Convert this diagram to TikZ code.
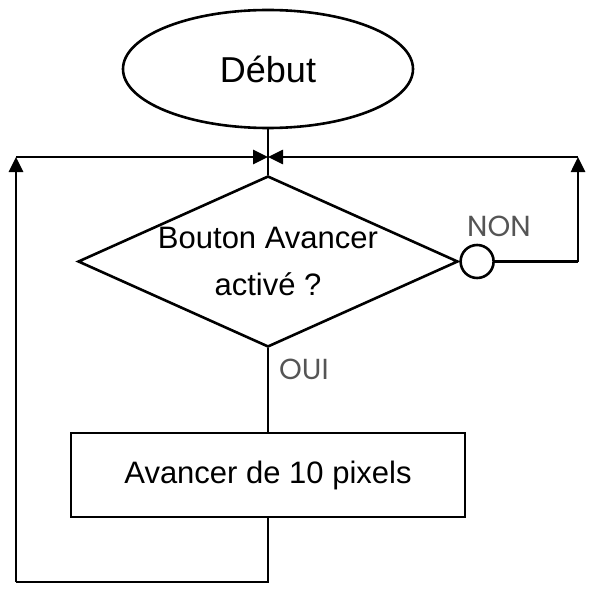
\documentclass[tikz,border=0pt]{standalone}
\usepackage{fontspec}
\setmainfont{Liberation Sans}
\newfontfamily\labelfont{Poppins}
\usetikzlibrary{shapes.geometric,arrows.meta}
\definecolor{labelgray}{HTML}{555555}
\tikzset{
  flow/.style={line width=2.6pt},
  arr/.style={flow,-{Triangle[length=15pt,width=14pt]}},
  startbox/.style={ellipse,draw,flow,inner sep=0,minimum width=290,minimum height=118,font=\fontsize{36}{43}\selectfont},
  testbox/.style={diamond,draw,flow,aspect=2.22,inner xsep=0,inner ysep=-20pt,minimum width=380,minimum height=171,align=center,font=\fontsize{31}{47}\selectfont},
  actbox/.style={rectangle,draw,flow,minimum width=394,minimum height=84,font=\fontsize{31}{37}\selectfont},
  knot/.style={circle,draw,flow,fill=white,inner sep=0,minimum size=33},
  lbl/.style={text=labelgray,inner sep=0,font=\labelfont\fontsize{29}{33}\selectfont}
}
\begin{document}
\begin{tikzpicture}[x=1pt,y=-1pt]
\useasboundingbox (0,0) rectangle (596,588);
%
\node[startbox] (debut) at (268,69) {Début};
\node[testbox] (test) at (268,261.5) {Bouton Avancer\\activé ?};
\node[actbox] (avance) at (268,475) {Avancer de 10 pixels};
\node[knot,anchor=west] (non) at (test.east) {};
\node[lbl,anchor=base west] (nontxt) at (467,236) {NON};
\node[lbl,anchor=base west] (ouitxt) at (279,379) {OUI};
%
\coordinate (topL) at (16,157);
\coordinate (topR) at (578,157);
\coordinate (botL) at (16,582);
\coordinate (j) at (test.north |- topL);
\coordinate (botM) at (avance.south |- botL);
\coordinate (midR) at (topR |- non.east);
%
\draw[flow] (debut.south)--(test.north);
\draw[flow] (test.south)--(avance.north);
\draw[flow] (non.east)--(midR);
\draw[arr] (midR)--(topR);
\draw[arr] (topR)--(j);
\draw[flow] (avance.south)--(botM)--(botL);
\draw[arr] (botL)--(topL);
\draw[arr] (topL)--(j);
\end{tikzpicture}
\end{document}
